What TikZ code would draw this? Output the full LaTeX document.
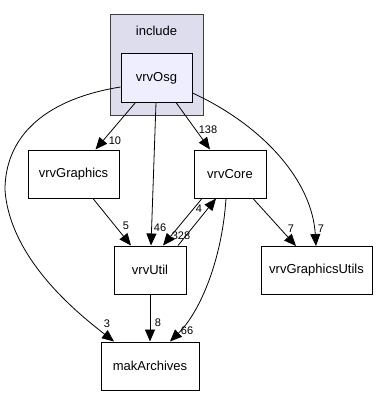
\documentclass[tikz,border=0pt]{standalone}
\usepackage{fontspec}
\setmainfont{Liberation Sans}
\usepackage{xcolor}
\usetikzlibrary{arrows.meta, positioning}

\definecolor{dirfill}{HTML}{DDDDEE}
\definecolor{dirline}{HTML}{404040}
\definecolor{pkgfill}{HTML}{EEEEFF}

\begin{document}
\begin{tikzpicture}[
    x=1pt, y=-1pt,
    every node/.style={font=\fontsize{13}{15}\selectfont},
    dirbox/.style={rectangle, draw=dirline, fill=dirfill, line width=1pt, minimum width=93pt, minimum height=100pt},
    pkg/.style={rectangle, draw=black, fill=white, line width=1pt, minimum height=48pt, inner sep=0pt},
    cur/.style={pkg, fill=pkgfill},
    dep/.style={draw, line width=0.8pt, -{Triangle[length=12pt, width=10pt]}},
    num/.style={font=\fontsize{11}{12}\selectfont, inner sep=0pt}
]
\useasboundingbox (0,0) rectangle (384,396);

% directory cluster
\node[dirbox] (include) at (156.5,65) {};
\node at (156.5,31) {include};

% packages
\node[cur, minimum width=71pt] (vrvOsg) at (156.5,78) {vrvOsg};
\node[pkg, minimum width=91pt] (vrvGraphics) at (73.5,174) {vrvGraphics};
\node[pkg, minimum width=72pt] (vrvCore) at (230,174) {vrvCore};
\node[pkg, minimum width=72pt] (vrvUtil) at (150,270) {vrvUtil};
\node[pkg, minimum width=111pt] (vrvGraphicsUtils) at (316.5,270.5) {vrvGraphicsUtils};
\node[pkg, minimum width=98pt] (makArchives) at (150,366) {makArchives};

% dependencies
\draw[dep] ([yshift=-9pt]vrvOsg.west) .. controls (40,100) and (5,140) .. (5,190)
    .. controls (10,260) and (80,315) .. ([xshift=-36pt]makArchives.north);
\draw[dep] ([xshift=-21pt]vrvOsg.south) -- ([xshift=22pt]vrvGraphics.north);
\draw[dep] ([xshift=-0.5pt]vrvOsg.south) -- ([xshift=1pt]vrvUtil.north);
\draw[dep] ([xshift=19.5pt]vrvOsg.south) -- ([xshift=-20pt]vrvCore.north);
\draw[dep] ([yshift=-15pt]vrvOsg.east) .. controls (262,125) and (312,180) .. ([xshift=-0.5pt]vrvGraphicsUtils.north);
\draw[dep] ([xshift=19.5pt]vrvGraphics.south) -- ([xshift=-19pt]vrvUtil.north);
\draw[dep] ([xshift=-28pt]vrvCore.south) -- ([xshift=13pt]vrvUtil.north);
\draw[dep] ([xshift=28pt]vrvUtil.north) -- ([xshift=-14pt]vrvCore.south);
\draw[dep] ([xshift=23pt]vrvCore.south) -- ([xshift=-20.5pt]vrvGraphicsUtils.north);
\draw[dep] ([xshift=-4pt]vrvCore.south) .. controls (222,260) and (200,312) .. ([xshift=20pt]makArchives.north);
\draw[dep] (vrvUtil.south) -- (makArchives.north);

% edge counts
\node[num] at (107,324) {3};
\node[num] at (115,141) {10};
\node[num] at (160,228) {46};
\node[num] at (208,130) {138};
\node[num] at (321,229) {7};
\node[num] at (126,226) {5};
\node[num] at (181,236) {328};
\node[num] at (199,209) {4};
\node[num] at (291,229) {7};
\node[num] at (187,331) {66};
\node[num] at (158,323) {8};
\end{tikzpicture}
\end{document}
